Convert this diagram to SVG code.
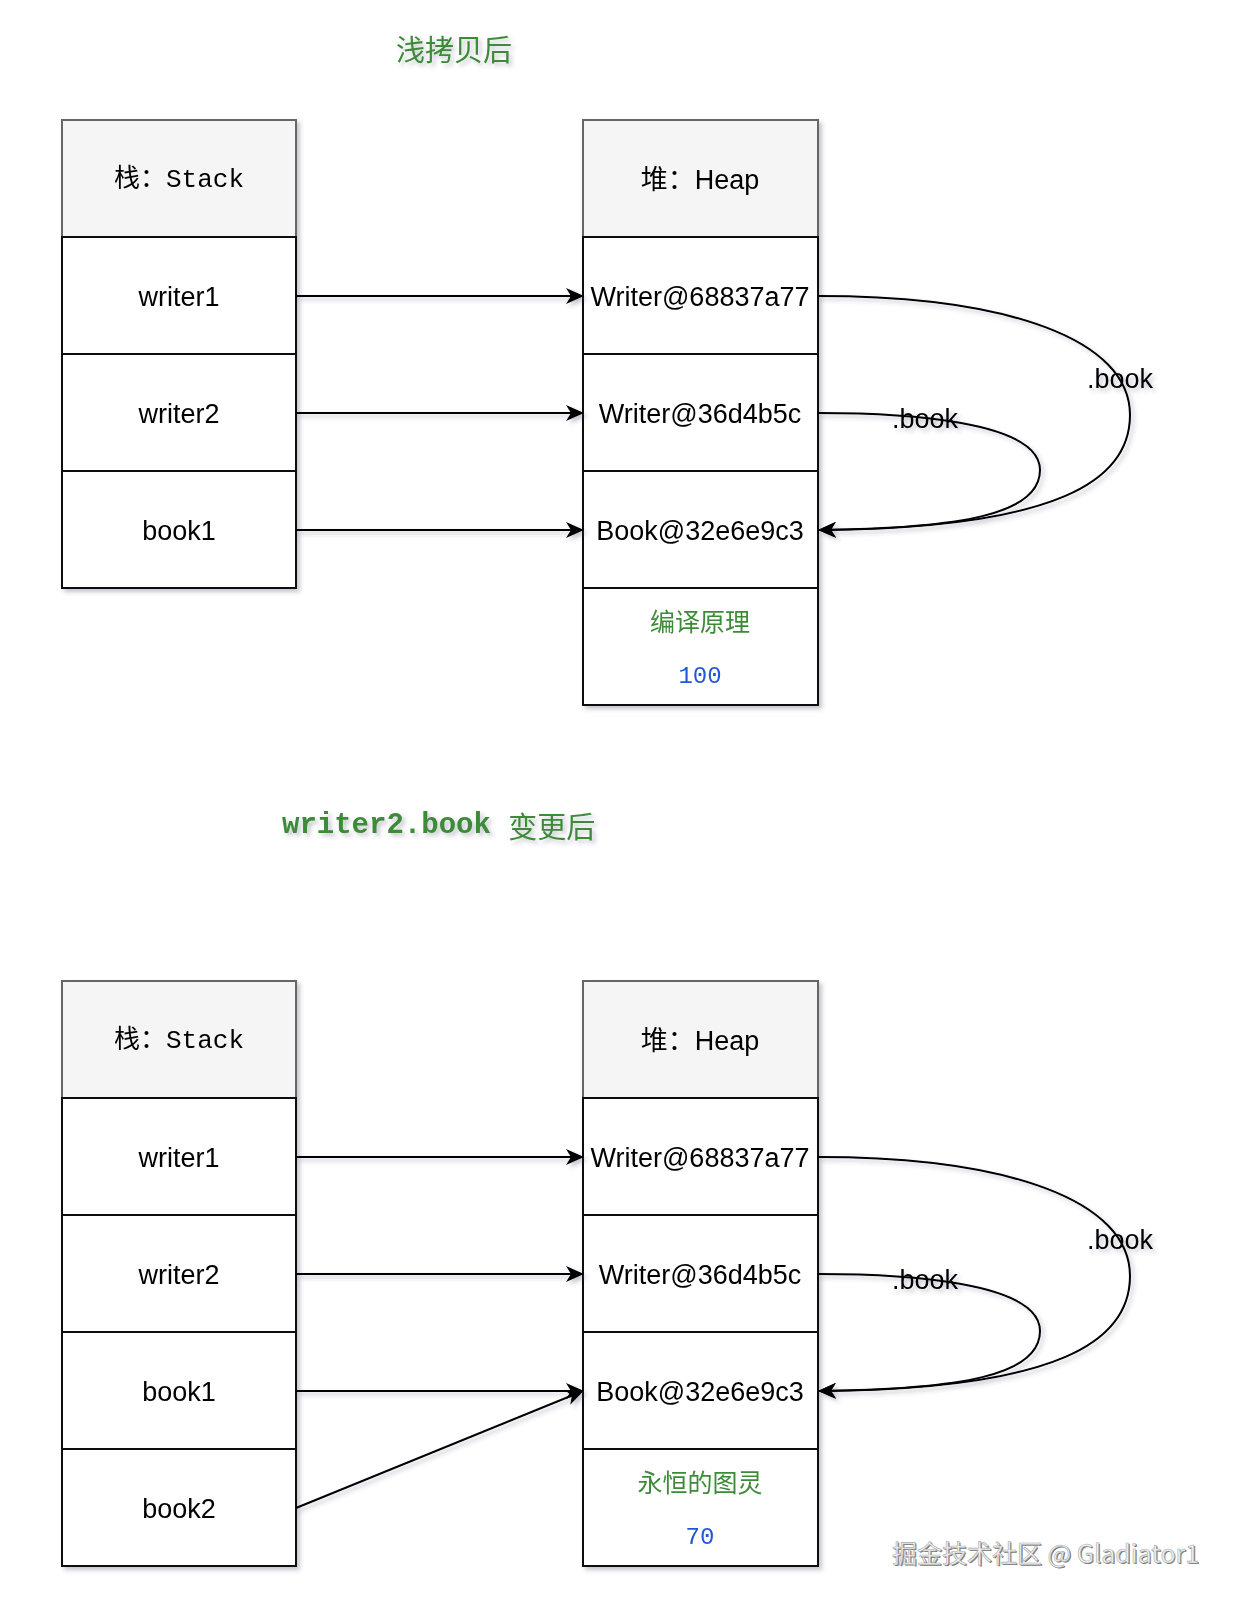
<svg xmlns="http://www.w3.org/2000/svg" width="1240" height="1603" viewBox="0 0 1240 1603">
<defs>
<filter id="sh" x="-10%" y="-10%" width="130%" height="130%">
<feDropShadow dx="3" dy="3" stdDeviation="2" flood-color="#404060" flood-opacity="0.3"/>
</filter>
<marker id="arr" viewBox="0 0 18 16" refX="17" refY="8" markerWidth="18" markerHeight="16" markerUnits="userSpaceOnUse" orient="auto">
<path d="M0,0 L18,8 L0,16 L5,8 z" fill="#000"/>
</marker>
</defs>
<style>
.hdr{fill:#f5f5f5;stroke:#666;stroke-width:2}
.row{fill:#fff;stroke:#111;stroke-width:2}
.t{font-family:"Liberation Sans","Noto Sans CJK SC",sans-serif;font-size:27px;fill:#000;text-anchor:middle;dominant-baseline:central}
.m{font-family:"Liberation Mono","Noto Sans CJK SC",monospace;font-size:26px;fill:#000;text-anchor:middle;dominant-baseline:central}
.ttl{font-family:"Noto Sans CJK SC",sans-serif;font-size:29px;fill:#3d8b37;dominant-baseline:central}
.cn{font-family:"Noto Sans CJK SC",sans-serif;font-size:25px;fill:#3d8b37;text-anchor:middle;dominant-baseline:central}
.num{font-family:"Liberation Mono",monospace;font-size:24px;fill:#2157d8;text-anchor:middle;dominant-baseline:central}
.ln{fill:none;stroke:#000;stroke-width:2;marker-end:url(#arr)}
</style>

<g id="title1" filter="url(#sh)"><text class="ttl" x="454" y="48" text-anchor="middle">浅拷贝后</text></g>

<g id="stack1" filter="url(#sh)">
<rect class="hdr" x="62" y="120" width="234" height="117"/>
<rect class="row" x="62" y="237" width="234" height="117"/>
<rect class="row" x="62" y="354" width="234" height="117"/>
<rect class="row" x="62" y="471" width="234" height="117"/>
<text class="m" x="179" y="180">栈：Stack</text>
<text class="t" x="179" y="297">writer1</text>
<text class="t" x="179" y="414">writer2</text>
<text class="t" x="179" y="531">book1</text>
</g>

<g id="heap1" filter="url(#sh)">
<rect class="hdr" x="583" y="120" width="235" height="117"/>
<rect class="row" x="583" y="237" width="235" height="117"/>
<rect class="row" x="583" y="354" width="235" height="117"/>
<rect class="row" x="583" y="471" width="235" height="117"/>
<rect class="row" x="583" y="588" width="235" height="117"/>
<text class="t" x="700" y="180">堆：Heap</text>
<text class="t" x="700" y="297">Writer@68837a77</text>
<text class="t" x="700" y="414">Writer@36d4b5c</text>
<text class="t" x="700" y="531">Book@32e6e9c3</text>
<text class="cn" x="700" y="620">编译原理</text>
<text class="num" x="700" y="676">100</text>
</g>

<g id="edges1" filter="url(#sh)">
<line class="ln" x1="296" y1="296" x2="583" y2="296"/>
<line class="ln" x1="296" y1="413" x2="583" y2="413"/>
<line class="ln" x1="296" y1="530" x2="583" y2="530"/>
<path class="ln" d="M818,296 C1010,296 1130,340 1130,415 C1130,480 1060,528 819,530"/>
<path class="ln" d="M818,413 C900,413 1040,420 1040,470 C1040,515 960,528 819,530"/>
<text class="t" x="1120" y="379">.book</text>
<text class="t" x="925" y="419">.book</text>
</g>

<g id="title2" filter="url(#sh)"><text class="ttl" x="282" y="825"><tspan font-family="Liberation Mono, monospace" font-weight="bold">writer2.book </tspan>变更后</text></g>

<g id="stack2" filter="url(#sh)">
<rect class="hdr" x="62" y="981" width="234" height="117"/>
<rect class="row" x="62" y="1098" width="234" height="117"/>
<rect class="row" x="62" y="1215" width="234" height="117"/>
<rect class="row" x="62" y="1332" width="234" height="117"/>
<rect class="row" x="62" y="1449" width="234" height="117"/>
<text class="m" x="179" y="1041">栈：Stack</text>
<text class="t" x="179" y="1158">writer1</text>
<text class="t" x="179" y="1275">writer2</text>
<text class="t" x="179" y="1392">book1</text>
<text class="t" x="179" y="1509">book2</text>
</g>

<g id="heap2" filter="url(#sh)">
<rect class="hdr" x="583" y="981" width="235" height="117"/>
<rect class="row" x="583" y="1098" width="235" height="117"/>
<rect class="row" x="583" y="1215" width="235" height="117"/>
<rect class="row" x="583" y="1332" width="235" height="117"/>
<rect class="row" x="583" y="1449" width="235" height="117"/>
<text class="t" x="700" y="1041">堆：Heap</text>
<text class="t" x="700" y="1158">Writer@68837a77</text>
<text class="t" x="700" y="1275">Writer@36d4b5c</text>
<text class="t" x="700" y="1392">Book@32e6e9c3</text>
<text class="cn" x="700" y="1481">永恒的图灵</text>
<text class="num" x="700" y="1537">70</text>
</g>

<g id="edges2" filter="url(#sh)">
<line class="ln" x1="296" y1="1157" x2="583" y2="1157"/>
<line class="ln" x1="296" y1="1274" x2="583" y2="1274"/>
<line class="ln" x1="296" y1="1391" x2="583" y2="1391"/>
<line class="ln" x1="296" y1="1508" x2="583" y2="1391"/>
<path class="ln" d="M818,1157 C1010,1157 1130,1201 1130,1276 C1130,1341 1060,1389 819,1391"/>
<path class="ln" d="M818,1274 C900,1274 1040,1281 1040,1331 C1040,1376 960,1389 819,1391"/>
<text class="t" x="1120" y="1240">.book</text>
<text class="t" x="925" y="1280">.book</text>
</g>

<g id="watermark">
<text x="892" y="1552" font-family="Noto Sans CJK SC, sans-serif" font-size="25" fill="#777" dominant-baseline="central" transform="translate(1.2,1.2)">掘金技术社区 @ Gladiator1</text>
<text x="892" y="1552" font-family="Noto Sans CJK SC, sans-serif" font-size="25" fill="#f2f2f2" stroke="#aaa" stroke-width="0.6" dominant-baseline="central">掘金技术社区 @ Gladiator1</text>
</g>
</svg>
